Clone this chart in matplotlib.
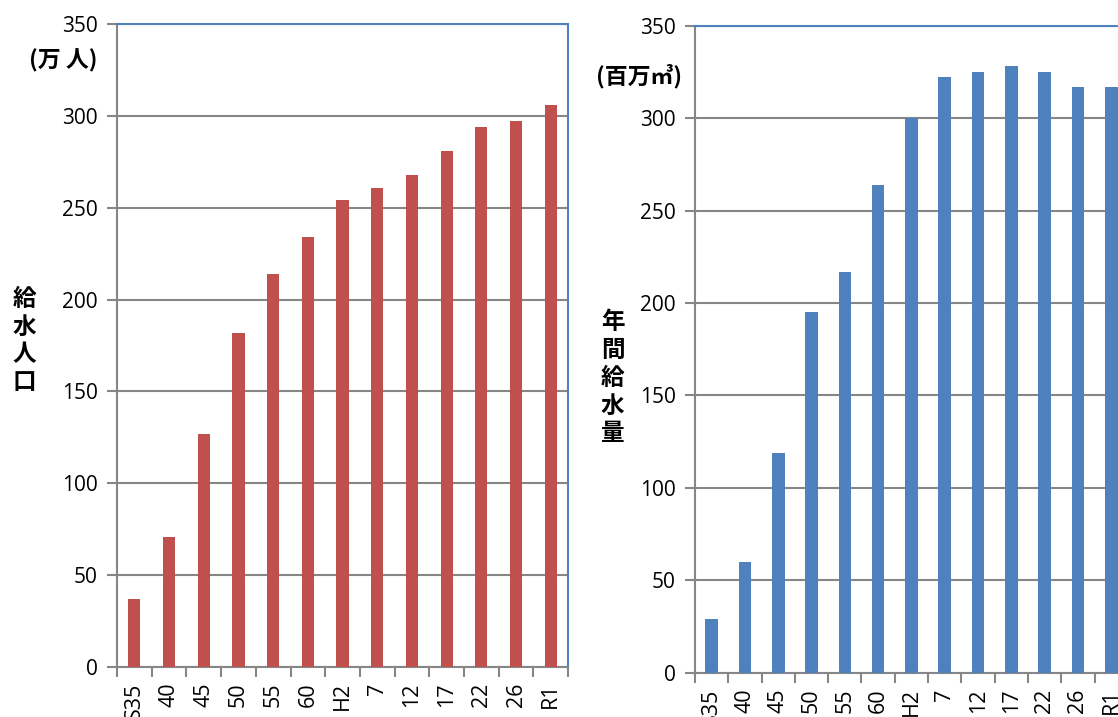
import numpy as np
import matplotlib
matplotlib.use("Agg")
from matplotlib import pyplot as plt

plt.rcParams['font.family'] = ['Open Sans', 'Noto Sans CJK JP', 'DejaVu Sans']

categories = ['S35', '40', '45', '50', '55', '60', 'H2', '7', '12', '17', '22', '26', 'R1']
population = [37, 71, 127, 182, 214, 234, 254, 261, 268, 281, 294, 297, 306]
supply = [29, 60, 119, 195, 217, 264, 300, 322, 325, 328, 325, 317, 317]

GRAY = '#868686'
BLUE_LINE = '#4F81BD'
CJK = ['Noto Sans CJK JP', 'DejaVu Sans']

fig = plt.figure(figsize=(11.18, 7.17), dpi=100)
ax1 = fig.add_axes([0.1047, 0.0697, 0.4034, 0.8968])
ax2 = fig.add_axes([0.6216, 0.0614, 0.3873, 0.9030])


def style(ax, values, color, width):
    x = np.arange(len(categories))
    ax.bar(x, values, width=width, color=color, zorder=3)
    ax.set_xlim(-0.5, len(categories) - 0.5)
    ax.set_ylim(0, 350)
    ax.set_yticks(range(0, 351, 50))
    ax.set_xticks(np.arange(-0.5, len(categories), 1.0))
    ax.set_xticklabels([])
    ax.set_xticks(x, minor=True)
    ax.set_xticklabels(categories, minor=True, rotation=90, fontsize=15.5)
    ax.tick_params(axis='x', which='major', direction='out', length=7, width=1.5, color=GRAY)
    ax.tick_params(axis='x', which='minor', length=0, pad=11)
    ax.tick_params(axis='y', direction='out', length=7, width=1.5, color=GRAY, labelsize=15, pad=7)
    ax.grid(axis='y', color=GRAY, linewidth=1.5, zorder=1)
    ax.set_axisbelow(True)
    for s in ('left', 'bottom'):
        ax.spines[s].set_color(GRAY)
        ax.spines[s].set_linewidth(1.5)
    for s in ('top', 'right'):
        ax.spines[s].set_color(BLUE_LINE)
        ax.spines[s].set_linewidth(1.5)


style(ax1, population, '#C0504D', 0.35)
style(ax2, supply, '#4F81BD', 0.38)

fig.text(0.0566, 0.916, '(万 人)', fontsize=16.5, fontweight='bold', family=CJK, ha='center', va='center')
fig.text(0.022, 0.525, '給\n水\n人\n口', fontsize=17, fontweight='bold', family=CJK,
         ha='center', va='center', linespacing=1.2)
fig.text(0.572, 0.894, '(百万㎥)', fontsize=16.5, fontweight='bold', family=CJK, ha='center', va='center')
fig.text(0.548, 0.473, '年\n間\n給\n水\n量', fontsize=17, fontweight='bold', family=CJK,
         ha='center', va='center', linespacing=1.2)

fig.savefig('out.png', dpi=100)
